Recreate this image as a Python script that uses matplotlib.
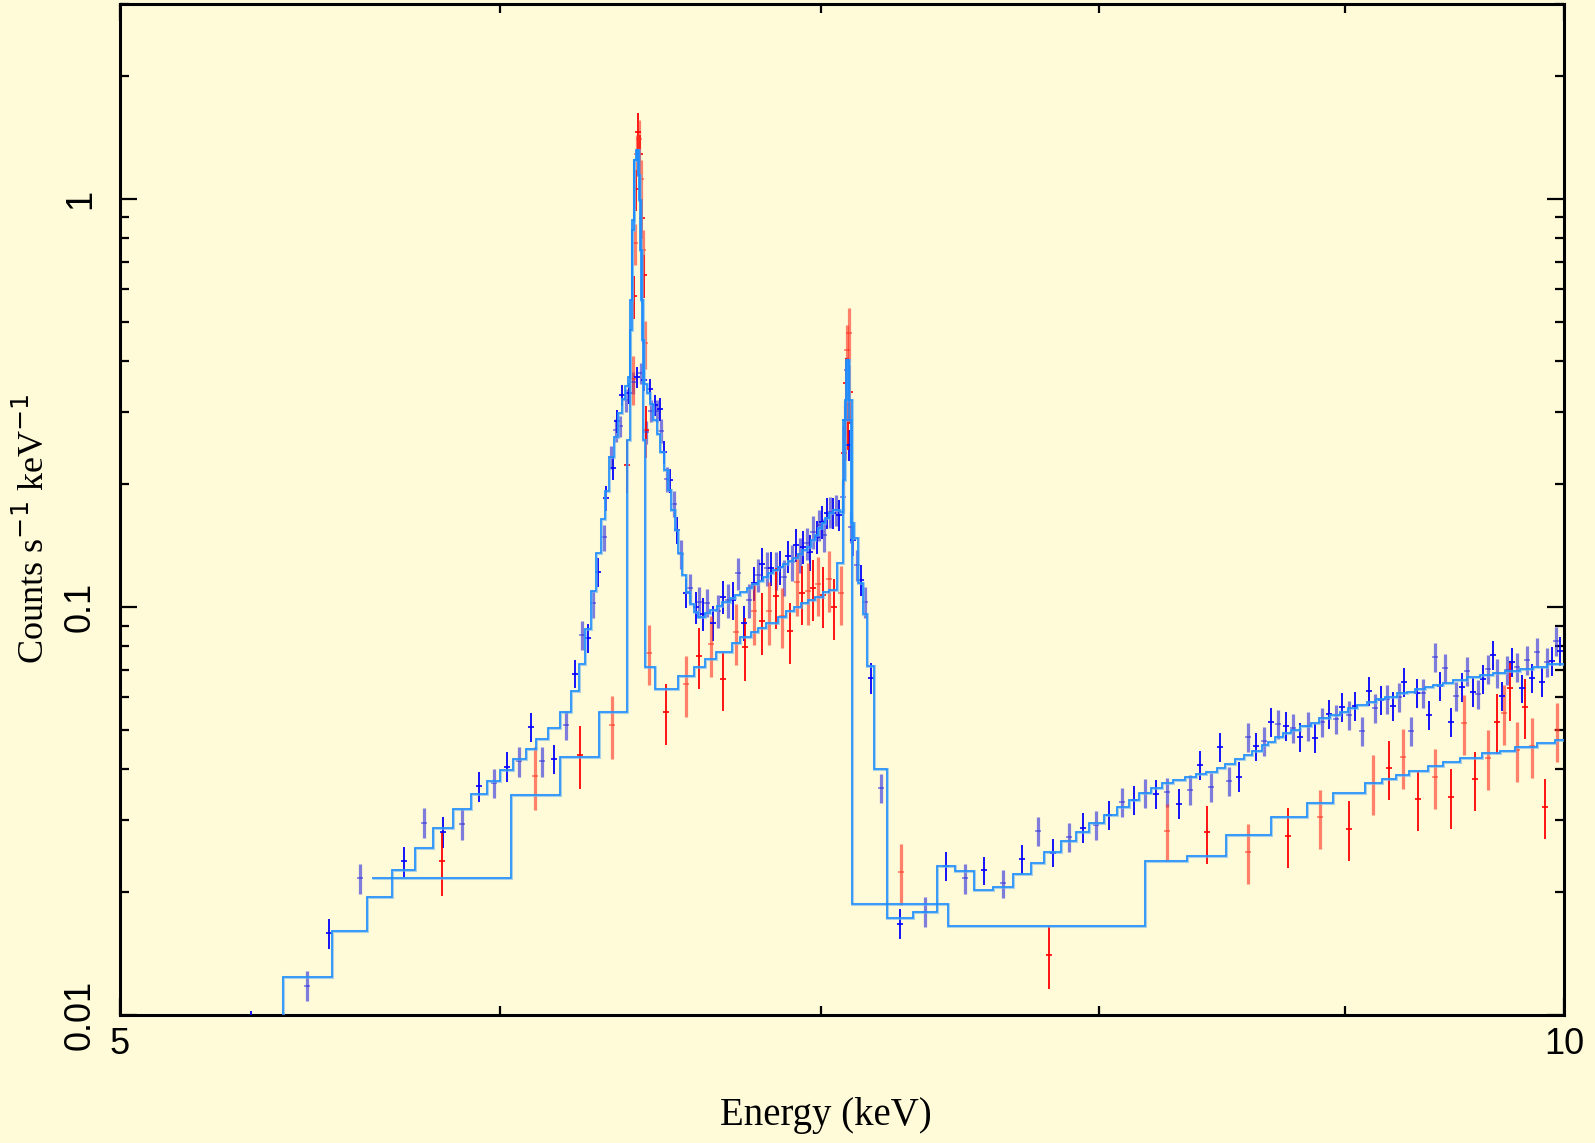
import matplotlib
matplotlib.use("Agg")
import matplotlib.pyplot as plt
from matplotlib.ticker import FixedLocator, NullFormatter

# ---- data (energy in keV, counts s^-1 keV^-1) ----
# first spectrum (blue points, fine binning)
blue_E = [5.325, 5.470, 5.528, 5.611, 5.730, 5.785, 5.838, 5.892, 5.940, 5.983,
          6.020, 6.055, 6.090, 6.122, 6.158, 6.193, 6.220, 6.241, 6.259, 6.274,
          6.290, 6.307, 6.313, 6.328, 6.334, 6.343, 6.348, 6.356, 6.362, 6.374,
          6.384, 6.396, 6.409, 6.421, 6.431, 6.437, 6.447, 6.453, 6.463, 6.469,
          6.478, 6.484, 6.491, 6.500, 6.510, 6.523, 6.533, 6.546, 6.562, 6.575,
          6.591, 6.601, 6.614, 6.627, 6.646, 6.662, 6.679, 6.695, 6.711, 6.727,
          6.746, 6.762, 6.779, 6.792, 6.805, 6.821, 6.834, 6.851, 6.864, 6.877,
          6.890, 6.903, 6.917, 6.930, 6.940, 6.953, 6.963, 6.973, 6.987, 6.993,
          7.004, 7.011, 7.021, 7.031, 7.041, 7.051, 7.061, 7.075, 7.082, 7.089,
          7.095, 7.102, 7.109, 7.123, 7.137, 7.150, 7.171, 7.203,
          7.271, 7.359, 7.433, 7.501, 7.570, 7.640, 7.709, 7.769, 7.825, 7.885,
          7.938, 7.989, 8.038, 8.088, 8.134, 8.178, 8.221, 8.264, 8.312, 8.356,
          8.396, 8.441, 8.478, 8.515, 8.556, 8.593, 8.626, 8.659, 8.688, 8.717,
          8.751, 8.780, 8.810, 8.844, 8.874, 8.904, 8.934, 8.964, 8.989, 9.020,
          9.046, 9.076, 9.107, 9.133, 9.159, 9.186, 9.212, 9.239, 9.261, 9.292,
          9.319, 9.345, 9.372, 9.399, 9.422, 9.445, 9.472, 9.495, 9.522, 9.545,
          9.572, 9.595, 9.619, 9.642, 9.665, 9.684, 9.707, 9.730, 9.753, 9.777,
          9.800, 9.823, 9.847, 9.871, 9.894, 9.918, 9.942, 9.961, 9.981]
blue_y = [0.0096, 0.0118, 0.01585, 0.0216, 0.0238, 0.0296, 0.0281, 0.0294, 0.0363, 0.0371,
          0.0406, 0.0418, 0.0508, 0.0418, 0.0425, 0.0514, 0.0686, 0.0854, 0.0840, 0.102,
          0.122, 0.148, 0.185, 0.233, 0.219, 0.271, 0.285, 0.277, 0.330, 0.321,
          0.334, 0.355, 0.366, 0.374, 0.360, 0.268, 0.342, 0.302, 0.312, 0.302,
          0.305, 0.270, 0.2395, 0.2057, 0.204, 0.1788, 0.1543, 0.1349, 0.1082, 0.1113,
          0.100, 0.1028, 0.0961, 0.1023, 0.0914, 0.0978, 0.1058, 0.104, 0.104, 0.1211,
          0.0914, 0.104, 0.1145, 0.1197, 0.1274, 0.1246, 0.1246, 0.1232, 0.1253, 0.1184,
          0.1333, 0.1289, 0.1418, 0.1341, 0.1402, 0.1434, 0.1364, 0.1526, 0.1484, 0.1587,
          0.1615, 0.1501, 0.1699, 0.1709, 0.1699, 0.1728, 0.168, 0.1859, 0.287, 0.3803,
          0.2492, 0.157, 0.1459, 0.1267, 0.1164, 0.1028, 0.067, 0.036,
          0.01675, 0.01792, 0.02323, 0.0216, 0.0226, 0.0210, 0.02416, 0.02829, 0.0250, 0.02735,
          0.02877, 0.02926, 0.03097, 0.03331, 0.03369, 0.03505, 0.0348, 0.03524, 0.03294, 0.03565,
          0.04103, 0.03625, 0.04544, 0.0375, 0.03836, 0.04806, 0.0455, 0.04699, 0.05231, 0.05172,
          0.05113, 0.05055, 0.04806, 0.0511, 0.0478, 0.0523, 0.0547, 0.0532, 0.0569, 0.0544,
          0.0572, 0.0497, 0.0623, 0.0566, 0.0592, 0.0594, 0.0572, 0.0602, 0.0655, 0.0497,
          0.0616, 0.0616, 0.0544, 0.0754, 0.0641, 0.0709, 0.0523, 0.0606, 0.0637, 0.0697,
          0.0620, 0.0612, 0.0666, 0.0705, 0.0763, 0.0690, 0.0606, 0.0701, 0.0733, 0.0714,
          0.0631, 0.0742, 0.0671, 0.0774, 0.0655, 0.0733, 0.0737, 0.0826, 0.0780]
blue_err = [0.0006, 0.0010, 0.0013, 0.0018, 0.0020, 0.0025, 0.0025, 0.0025, 0.0030, 0.0030,
            0.0034, 0.0035, 0.0042, 0.0035, 0.0035, 0.0042, 0.0055, 0.0070, 0.0070, 0.008,
            0.010, 0.011, 0.013, 0.015, 0.015, 0.017, 0.018, 0.017, 0.020, 0.020,
            0.020, 0.022, 0.022, 0.022, 0.022, 0.018, 0.020, 0.019, 0.019, 0.019,
            0.019, 0.018, 0.016, 0.014, 0.014, 0.013, 0.012, 0.011, 0.009, 0.009,
            0.009, 0.009, 0.009, 0.008, 0.009, 0.009, 0.010, 0.010, 0.011, 0.011,
            0.009, 0.010, 0.011, 0.011, 0.012, 0.012, 0.012, 0.013, 0.012, 0.012,
            0.012, 0.013, 0.013, 0.013, 0.013, 0.013, 0.014, 0.014, 0.014, 0.014,
            0.015, 0.014, 0.015, 0.015, 0.015, 0.015, 0.015, 0.016, 0.025, 0.030,
            0.022, 0.014, 0.013, 0.011, 0.010, 0.009, 0.006, 0.003,
            0.0014, 0.0015, 0.0019, 0.0018, 0.0018, 0.0017, 0.0020, 0.0023, 0.0020, 0.0022,
            0.0024, 0.0024, 0.0025, 0.0027, 0.0028, 0.0029, 0.0029, 0.0029, 0.0028, 0.0030,
            0.0033, 0.0030, 0.0037, 0.0031, 0.0032, 0.0039, 0.0037, 0.0038, 0.0042, 0.0042,
            0.0042, 0.0041, 0.0039, 0.0042, 0.0039, 0.0043, 0.0045, 0.0044, 0.0046, 0.0045,
            0.0047, 0.0041, 0.0050, 0.0046, 0.0048, 0.0048, 0.0047, 0.0049, 0.0053, 0.0041,
            0.0050, 0.0050, 0.0045, 0.0061, 0.0052, 0.0058, 0.0043, 0.0050, 0.0052, 0.0057,
            0.0050, 0.0050, 0.0054, 0.0057, 0.0062, 0.0056, 0.0050, 0.0057, 0.0060, 0.0058,
            0.0051, 0.0060, 0.0055, 0.0063, 0.0053, 0.0060, 0.0060, 0.0067, 0.0063]

# second spectrum (red points, coarser binning)
red_E = [5.835, 6.102, 6.235, 6.332, 6.378, 6.396, 6.399, 6.402, 6.405, 6.408,
         6.411, 6.414, 6.418, 6.421, 6.424, 6.427, 6.430, 6.433, 6.437, 6.445,
         6.498, 6.561, 6.602, 6.640, 6.679, 6.720, 6.750, 6.779, 6.805, 6.828,
         6.851, 6.870, 6.897, 6.920, 6.937, 6.957, 6.973, 6.989, 7.007, 7.027,
         7.044, 7.068, 7.078, 7.082, 7.085, 7.089, 7.092, 7.095, 7.099,
         7.274, 7.810, 8.264, 8.425, 8.593, 8.759, 8.895, 9.020, 9.124, 9.195,
         9.257, 9.323, 9.399, 9.472, 9.531, 9.582, 9.642, 9.684, 9.716, 9.744,
         9.777, 9.814, 9.847, 9.908, 9.966]
red_y = [0.0238, 0.0386, 0.0434, 0.0514, 0.2227, 0.362, 0.577, 0.778, 1.055, 1.285,
         1.455, 1.40, 1.285, 1.116, 0.896, 0.748, 0.650, 0.443, 0.271, 0.0772,
         0.0553, 0.0648, 0.0759, 0.0812, 0.0666, 0.0869, 0.0798, 0.0978, 0.0924, 0.0978,
         0.1064, 0.0951, 0.0874, 0.1151, 0.1082, 0.1094, 0.1113, 0.1138, 0.107, 0.1171,
         0.100, 0.1082, 0.238, 0.274, 0.353, 0.426, 0.292, 0.469, 0.336,
         0.02245, 0.01406, 0.0283, 0.0280, 0.0251, 0.0275, 0.0305, 0.0286, 0.0371, 0.0403,
         0.0429, 0.0339, 0.0384, 0.0343, 0.052, 0.0379, 0.0427, 0.0523, 0.055, 0.0631,
         0.0447, 0.0569, 0.0457, 0.0324, 0.050]
red_err = [0.0042, 0.0068, 0.0076, 0.009, 0.033, 0.05, 0.07, 0.09, 0.12, 0.15,
           0.17, 0.16, 0.15, 0.13, 0.10, 0.09, 0.08, 0.06, 0.04, 0.013,
           0.0095, 0.011, 0.013, 0.014, 0.011, 0.015, 0.014, 0.017, 0.016, 0.017,
           0.018, 0.016, 0.015, 0.020, 0.018, 0.019, 0.019, 0.019, 0.018, 0.020,
           0.017, 0.018, 0.04, 0.045, 0.055, 0.065, 0.05, 0.07, 0.055,
           0.0038, 0.0025, 0.0045, 0.0045, 0.0042, 0.0046, 0.0050, 0.0048, 0.0062, 0.0067,
           0.0072, 0.0057, 0.0064, 0.0057, 0.0087, 0.0063, 0.0071, 0.0087, 0.0092, 0.0105,
           0.0075, 0.0095, 0.0076, 0.0054, 0.0083]

# folded models (step histograms): bin edges and values
model1_edges = [5.300, 5.407, 5.536, 5.629, 5.697, 5.761, 5.811, 5.867, 5.918, 5.963,
                6.000, 6.038, 6.076, 6.105, 6.140, 6.176, 6.208, 6.232, 6.250, 6.268,
                6.283, 6.299, 6.311, 6.323, 6.338, 6.350, 6.362, 6.372, 6.381, 6.387,
                6.393, 6.399, 6.405, 6.411, 6.418, 6.424, 6.430, 6.439, 6.449, 6.458,
                6.470, 6.480, 6.492, 6.505, 6.514, 6.527, 6.536, 6.549, 6.561, 6.574,
                6.587, 6.599, 6.621, 6.637, 6.659, 6.675, 6.701, 6.717, 6.733, 6.756,
                6.772, 6.791, 6.808, 6.824, 6.840, 6.857, 6.873, 6.890, 6.906, 6.923,
                6.936, 6.953, 6.966, 6.980, 6.990, 7.003, 7.014, 7.027, 7.041, 7.065,
                7.075, 7.082, 7.089, 7.095, 7.102, 7.112, 7.126, 7.143, 7.157, 7.181,
                7.226, 7.316, 7.401, 7.465, 7.534, 7.603, 7.677, 7.744, 7.792, 7.856,
                7.913, 7.963, 8.017, 8.067, 8.114, 8.154, 8.201, 8.245, 8.288, 8.336,
                8.380, 8.421, 8.465, 8.498, 8.539, 8.576, 8.609, 8.651, 8.676, 8.705,
                8.738, 8.772, 8.810, 8.857, 8.891, 8.938, 8.981, 9.015, 9.054, 9.098,
                9.137, 9.177, 9.230, 9.274, 9.310, 9.354, 9.390, 9.436, 9.481, 9.545,
                9.605, 9.665, 9.721, 9.791, 9.852, 9.919, 10.0]
model1_vals = [0.0085, 0.01242, 0.01610, 0.01950, 0.02271, 0.02570, 0.02877, 0.03202, 0.03485, 0.03750,
               0.03990, 0.04245, 0.04492, 0.04753, 0.05056, 0.05533, 0.06228, 0.07251, 0.08834, 0.1094,
               0.1356, 0.1642, 0.1923, 0.2329, 0.2607, 0.2986, 0.3230, 0.3475, 0.3656, 0.5645,
               0.8372, 1.2427, 1.3145, 1.1417, 0.7481, 0.4503, 0.3515, 0.3341, 0.3141, 0.2870,
               0.2652, 0.2395, 0.2164, 0.1934, 0.1728, 0.1543, 0.1356, 0.1197, 0.1088, 0.1017,
               0.09723, 0.09451, 0.09667, 0.09833, 0.1006, 0.1028, 0.1052, 0.1070, 0.1088, 0.1113,
               0.1139, 0.1158, 0.1184, 0.1211, 0.1232, 0.1253, 0.1274, 0.1296, 0.1318, 0.1348,
               0.1378, 0.1402, 0.1459, 0.1501, 0.1561, 0.1606, 0.1652, 0.1699, 0.1728, 0.1709,
               0.2046, 0.3211, 0.4023, 0.2870, 0.1606, 0.1475, 0.1145, 0.09614, 0.07171, 0.04012,
               0.01733, 0.01792, 0.02323, 0.02258, 0.02029, 0.02064, 0.02221, 0.02362, 0.02513, 0.02674,
               0.02813, 0.02959, 0.03096, 0.03239, 0.03369, 0.03505, 0.03604, 0.03707, 0.03771, 0.03835,
               0.03901, 0.03945, 0.04035, 0.04127, 0.04245, 0.04342, 0.04441, 0.04594, 0.04672, 0.04806,
               0.04915, 0.04999, 0.05113, 0.05200, 0.05349, 0.05440, 0.05533, 0.05660, 0.05756, 0.05854,
               0.05954, 0.06022, 0.06159, 0.06193, 0.06299, 0.06370, 0.06442, 0.06516, 0.06627, 0.06740,
               0.06817, 0.06894, 0.06972, 0.07051, 0.07131, 0.07251]

model2_edges = [5.643, 6.032, 6.176, 6.293, 6.378, 6.387, 6.393, 6.399, 6.408, 6.414,
                6.421, 6.427, 6.433, 6.464, 6.536, 6.587, 6.621, 6.656, 6.707, 6.733,
                6.769, 6.791, 6.817, 6.857, 6.883, 6.910, 6.933, 6.957, 6.980, 7.007,
                7.027, 7.054, 7.075, 7.085, 7.095, 7.106, 7.440, 8.178, 8.344, 8.502,
                8.688, 8.840, 8.951, 9.089, 9.164, 9.226, 9.283, 9.368, 9.436, 9.513,
                9.614, 9.697, 9.768, 9.871, 9.957, 10.0]
model2_vals = [0.02171, 0.03466, 0.04294, 0.05533, 0.2563, 0.4767, 0.8857, 1.2427, 1.3145, 0.9916,
               0.5645, 0.2563, 0.07131, 0.06299, 0.06779, 0.07131, 0.07459, 0.07757, 0.08162, 0.08442,
               0.08684, 0.08882, 0.09136, 0.09451, 0.09777, 0.1000, 0.1023, 0.1040, 0.1058, 0.1088,
               0.1100, 0.1281, 0.2870, 0.4023, 0.3211, 0.01874, 0.01656, 0.02388, 0.02457, 0.02766,
               0.03061, 0.03313, 0.03505, 0.03707, 0.03793, 0.03880, 0.03969, 0.04081, 0.04174, 0.04270,
               0.04391, 0.04441, 0.04542, 0.04646, 0.04725]

x_major = [5, 10]
x_minor = [6, 7, 8, 9]
y_major = [0.01, 0.1, 1]
y_labels = ["0.01", "0.1", "1"]
y_minor = [0.02, 0.03, 0.04, 0.05, 0.06, 0.07, 0.08, 0.09,
           0.2, 0.3, 0.4, 0.5, 0.6, 0.7, 0.8, 0.9, 2, 3]

bg = "#fffad8"

fig = plt.figure(figsize=(15.95, 11.43), dpi=100, facecolor=bg)
ax = fig.add_axes([120 / 1595, 1 - 1015 / 1143, 1444 / 1595, 1011 / 1143])
ax.set_facecolor(bg)
ax.set_xscale("log")
ax.set_yscale("log")


def draw_points(E, y, err, dark, light):
    # two interleaved groups, like the two exposures in the original plot
    ax.errorbar(E[::2], y[::2], yerr=err[::2], fmt="_", color=dark, ms=4, mew=1.2,
                elinewidth=1.3, capsize=0, zorder=3)
    ax.errorbar(E[1::2], y[1::2], yerr=err[1::2], fmt="_", color=light, ms=4, mew=1.2,
                elinewidth=2.3, capsize=0, alpha=0.6, zorder=3)


draw_points(blue_E, blue_y, blue_err, "#0000ff", "#2a2ae0")

for edges, vals in [(model1_edges, model1_vals), (model2_edges, model2_vals)]:
    ax.stairs(vals, edges, baseline=None, color="#70b4ee", lw=2.2, alpha=0.6, zorder=4)
    ax.stairs(vals, edges, baseline=None, color="#1a8cff", lw=1.1, zorder=5)

draw_points(red_E, red_y, red_err, "#ff0000", "#ff3020")

ax.set_xlim(5, 10)
ax.set_ylim(0.01, 3.0)

ax.xaxis.set_major_locator(FixedLocator(x_major))
ax.xaxis.set_minor_locator(FixedLocator(x_minor))
ax.set_xticklabels([str(v) for v in x_major], fontsize=26, family="Liberation Sans")
ax.xaxis.set_minor_formatter(NullFormatter())

ax.yaxis.set_major_locator(FixedLocator(y_major))
ax.yaxis.set_minor_locator(FixedLocator(y_minor))
ax.set_yticklabels(y_labels, fontsize=26, family="Liberation Sans", rotation=90, va="center")
ax.yaxis.set_minor_formatter(NullFormatter())

ax.tick_params(which="both", direction="in", top=True, right=True, width=1.6, color="black")
ax.tick_params(which="major", length=12)
ax.tick_params(which="minor", length=6.5)
ax.tick_params(axis="y", which="major", pad=16)
ax.tick_params(axis="x", which="major", pad=9)

for s in ax.spines.values():
    s.set_linewidth(2.2)

plt.rcParams["mathtext.fontset"] = "stix"
ax.set_xlabel("Energy (keV)", fontsize=28, family="Liberation Serif", va="center")
ax.xaxis.set_label_coords(0.489, -0.0999)
ax.set_ylabel(r"Counts s$^{-1}$ keV$^{-1}$", fontsize=26, family="Liberation Serif",
              va="center", ha="center")
ax.yaxis.set_label_coords(-0.0595, 0.4807)

fig.savefig("out.png", dpi=100, facecolor=bg)
